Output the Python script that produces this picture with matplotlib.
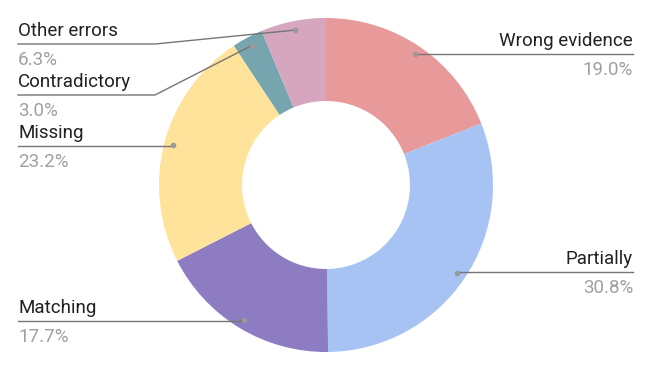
import numpy as np
import matplotlib.pyplot as plt

# Доли категорий, по часовой стрелке от верха.
categories = ["Wrong evidence", "Partially", "Matching", "Missing",
              "Contradictory", "Other errors"]
shares = np.array([19.0, 30.8, 17.7, 23.2, 3.0, 6.3])
colors = ["#E8999A", "#A6C3F4", "#8E7CC3", "#FFE39A", "#76A5AF", "#D5A6BD"]

plt.rcParams['font.family'] = ['Roboto', 'DejaVu Sans']

fig = plt.figure(figsize=(6.52, 3.71), dpi=100)
ax = fig.add_axes([0, 0, 1, 1])

cx, cy, R = 326, 185, 167
# ось y перевёрнута, поэтому старт снизу и против часовой = сверху по часовой
ax.pie(shares, colors=colors, startangle=-90, counterclock=True,
       center=(cx, cy), radius=R, frame=True,
       wedgeprops=dict(width=R - 84, linewidth=0))
ax.set_xlim(0, 652)
ax.set_ylim(371, 0)
ax.set_aspect('equal')
ax.axis('off')

# Положение подписей: (x текста, y линии, выравнивание, излом линии)
label_pos = {
    "Wrong evidence": (633, 54, 'right', None),
    "Partially": (633, 272, 'right', None),
    "Matching": (18, 321, 'left', None),
    "Missing": (18, 146, 'left', None),
    "Contradictory": (18, 95, 'left', 155),
    "Other errors": (18, 44, 'left', 155),
}

mids = (np.cumsum(shares) - shares / 2) / shares.sum() * 360
for name, share, ang in zip(categories, shares, mids):
    a = np.deg2rad(ang)
    px = cx + 0.946 * R * np.sin(a)
    py = cy - 0.946 * R * np.cos(a)
    tx, ly, ha, knee = label_pos[name]
    if ha == 'right':
        xs, ys = [px, tx], [ly, ly]
    elif knee is None:
        xs, ys = [tx, px], [ly, ly]
    else:
        xs, ys = [tx, knee, px], [ly, ly, py]
    ax.plot(xs, ys, color="#757575", lw=1)
    ax.plot(px, py, 'o', color="#999999", ms=3)
    ax.text(tx, ly - 4, name, ha=ha, va='bottom', fontsize=13.5, color="#212121")
    ax.text(tx, ly + 7, f"{share:.1f}%", ha=ha, va='top', fontsize=13.5, color="#A0A0A0")

fig.savefig("out.png", dpi=100)
